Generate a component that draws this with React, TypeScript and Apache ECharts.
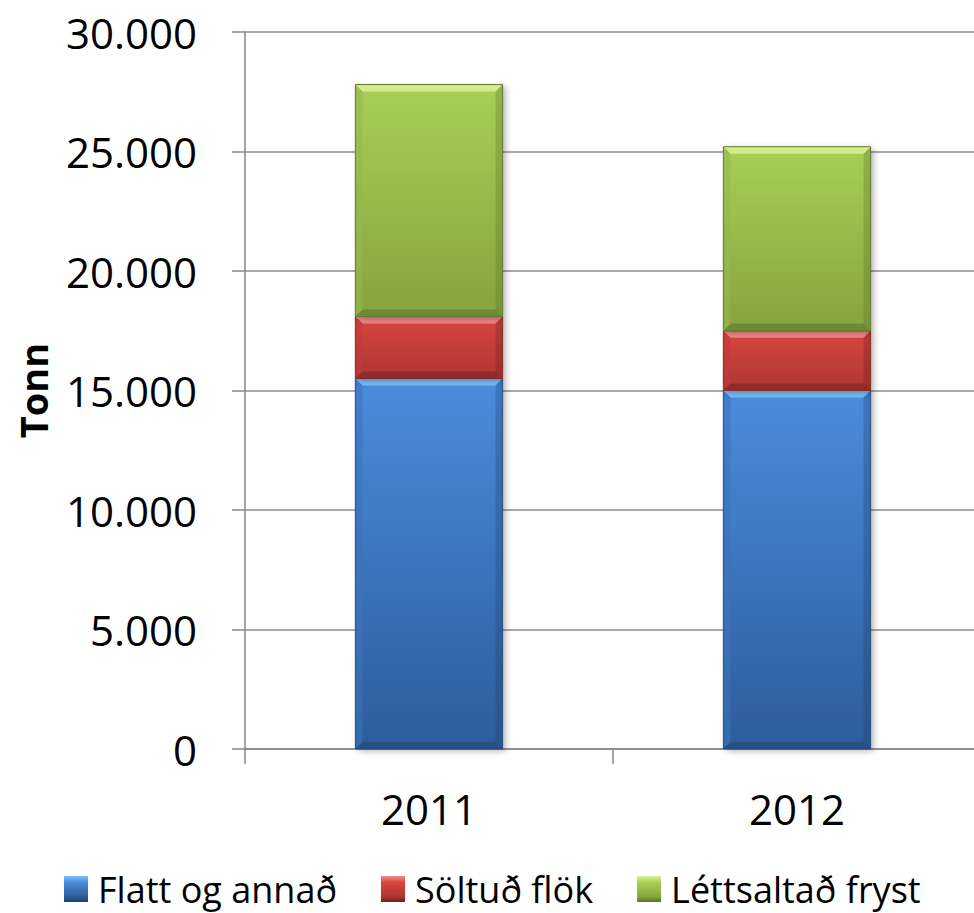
import React, { useEffect, useRef } from "react";
import * as echarts from "echarts";

const years = ["2011", "2012"];
const flattOgAnnad = [15500, 15000];
const soltudFlok = [2600, 2500];
const lettsaltadFryst = [9700, 7700];
const seriesNames = ["Flatt og annað", "Söltuð flök", "Léttsaltað fryst"];
const yTicks = [0, 5000, 10000, 15000, 20000, 25000, 30000];

const palettes = [
  { top: "#4a8ddc", bottom: "#2d5c9b", light: "#7cc0fb", dark: "#1f3f6e", side: "#3a73bd", border: "#2a5083" },
  { top: "#d8473f", bottom: "#ae3532", light: "#f28c88", dark: "#6e1f1d", side: "#c03c39", border: "#8a2a28" },
  { top: "#a8cf55", bottom: "#86a33e", light: "#d9f093", dark: "#55702a", side: "#97b849", border: "#5f7a2f" },
];

function fmt(v: number): string {
  return String(Math.round(v)).replace(/\B(?=(\d{3})+(?!\d))/g, ".");
}

export default function App() {
  const ref = useRef<HTMLDivElement>(null);
  useEffect(() => {
    if (!ref.current) return;
    const chart = echarts.init(ref.current, undefined, { renderer: "svg" });
    const stacks = [flattOgAnnad, soltudFlok, lettsaltadFryst];
    const cum = years.map(() => 0);
    const series = stacks.map((vals, si) => {
      const data = vals.map((v, i) => {
        const base = cum[i];
        cum[i] += v;
        return [i, base, base + v];
      });
      const p = palettes[si];
      return {
        type: "custom",
        name: seriesNames[si],
        itemStyle: {
          color: new echarts.graphic.LinearGradient(0, 0, 0, 1, [
            { offset: 0, color: p.light },
            { offset: 0.25, color: p.top },
            { offset: 0.8, color: p.bottom },
            { offset: 1, color: p.dark },
          ]),
        },
        encode: { x: 0, y: [1, 2] },
        data,
        renderItem: (params: any, api: any) => {
          const cx = api.coord([api.value(0), 0])[0];
          const yTop = api.coord([api.value(0), api.value(2)])[1];
          const yBot = api.coord([api.value(0), api.value(1)])[1];
          const w = api.size([1, 0])[0] * 0.4;
          const l = cx - w / 2;
          const r = cx + w / 2;
          const h = yBot - yTop;
          const b = Math.min(7, h / 3);
          return {
            type: "group",
            children: [
              {
                type: "rect",
                shape: { x: l, y: yTop, width: w, height: h },
                style: {
                  fill: new echarts.graphic.LinearGradient(0, 0, 0, 1, [
                    { offset: 0, color: p.top },
                    { offset: 1, color: p.bottom },
                  ]),
                  shadowBlur: 6,
                  shadowOffsetX: 3,
                  shadowOffsetY: 2,
                  shadowColor: "rgba(0,0,0,0.3)",
                },
              },
              {
                type: "polygon",
                shape: { points: [[l, yTop], [r, yTop], [r - b, yTop + b], [l + b, yTop + b]] },
                style: { fill: p.light, opacity: 0.9 },
              },
              {
                type: "polygon",
                shape: { points: [[l, yBot], [r, yBot], [r - b, yBot - b], [l + b, yBot - b]] },
                style: { fill: p.dark, opacity: 0.5 },
              },
              {
                type: "polygon",
                shape: { points: [[l, yTop], [l + b, yTop + b], [l + b, yBot - b], [l, yBot]] },
                style: { fill: p.side, opacity: 0.6 },
              },
              {
                type: "polygon",
                shape: { points: [[r, yTop], [r - b, yTop + b], [r - b, yBot - b], [r, yBot]] },
                style: { fill: p.dark, opacity: 0.3 },
              },
              {
                type: "rect",
                shape: { x: l, y: yTop, width: w, height: h },
                style: { fill: "none", stroke: p.border, lineWidth: 1 },
              },
            ],
          };
        },
      };
    });

    chart.setOption({
      animation: false,
      textStyle: { fontFamily: "Open Sans" },
      grid: { left: 245, right: -7, top: 32, bottom: 164, containLabel: false, outerBoundsMode: "none" },
      legend: {
        data: seriesNames,
        left: 59,
        top: 866,
        itemWidth: 24,
        itemHeight: 26,
        itemGap: 44,
        icon: "rect",
        textStyle: { fontSize: 36, lineHeight: 26, color: "#000", fontFamily: "Open Sans", padding: [0, 0, 0, 5] },
      },
      xAxis: {
        type: "category",
        data: years,
        boundaryGap: true,
        axisLine: { show: true, lineStyle: { color: "#878787", width: 1.5 } },
        axisTick: { show: true, length: 15, alignWithLabel: false, lineStyle: { color: "#878787", width: 1.5 } },
        axisLabel: { fontSize: 42, color: "#000", margin: 38, fontFamily: "Open Sans" },
        splitLine: { show: false },
      },
      yAxis: {
        type: "value",
        min: 0,
        max: yTicks[yTicks.length - 1],
        interval: yTicks[1] - yTicks[0],
        name: "Tonn",
        nameLocation: "middle",
        nameRotate: 90,
        nameGap: 193,
        nameTextStyle: { fontSize: 38, fontWeight: "bold", color: "#000", fontFamily: "Open Sans" },
        axisLine: { show: true, lineStyle: { color: "#878787", width: 1.5 } },
        axisTick: { show: true, length: 13, lineStyle: { color: "#878787", width: 1.5 } },
        axisLabel: { fontSize: 42, color: "#000", margin: 48, formatter: (v: number) => fmt(v), fontFamily: "Open Sans" },
        splitLine: { show: true, lineStyle: { color: "#8c8c8c", width: 1.5 } },
      },
      series,
    });
    return () => chart.dispose();
  }, []);
  return <div ref={ref} style={{ width: 974, height: 913, position: "absolute", left: 0, top: 0 }} />;
}
